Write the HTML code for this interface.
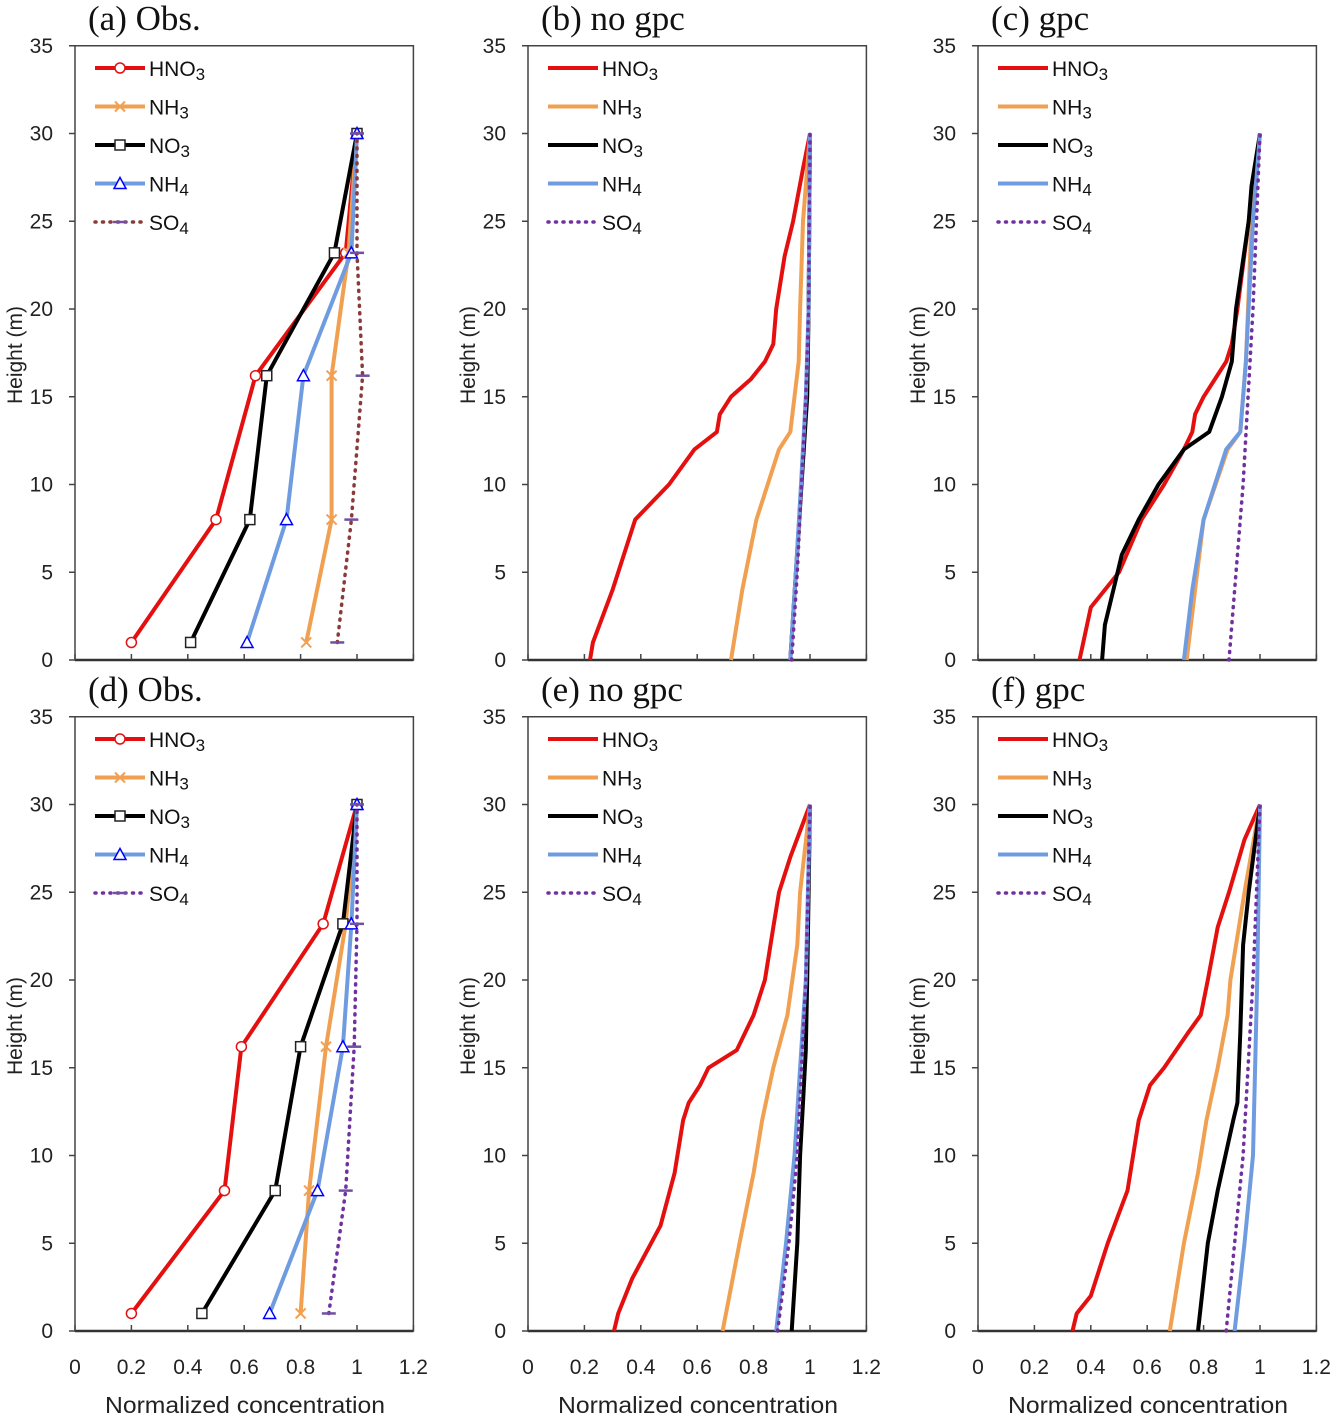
<!DOCTYPE html>
<html><head><meta charset="utf-8">
<style>
html,body{margin:0;padding:0;background:#fff;}
svg{display:block;}
text{font-family:"Liberation Sans",sans-serif;}
.title{font-family:"Liberation Serif",serif;font-size:35px;fill:#111;}
.tick{font-size:21px;fill:#222;}
.axt{font-size:23px;fill:#222;}
.leg{font-size:21px;fill:#111;}
</style></head>
<body>
<svg id="chart" width="1336" height="1416" viewBox="0 0 1336 1416" xmlns="http://www.w3.org/2000/svg"></svg>
<script>
// Panel titles
const panelTitles = ["(a) Obs.", "(b) no gpc", "(c) gpc", "(d) Obs.", "(e) no  gpc", "(f) gpc"];
const yTicks = [0, 5, 10, 15, 20, 25, 30, 35];
const xTicks = [0, 0.2, 0.4, 0.6, 0.8, 1, 1.2];
const xTickLabels = ["0", "0.2", "0.4", "0.6", "0.8", "1", "1.2"];
const speciesNames = ["HNO3", "NH3", "NO3", "NH4", "SO4"];

// Observation heights
const obsH = [1, 8, 16.2, 23.2, 30];
// (a) Obs
const aHNO3 = [0.2, 0.5, 0.64, 0.96, 1.0];
const aNH3 = [0.82, 0.91, 0.91, 0.97, 1.0];
const aNO3 = [0.41, 0.62, 0.68, 0.92, 1.0];
const aNH4 = [0.61, 0.75, 0.81, 0.98, 1.0];
const aSO4 = [0.93, 0.98, 1.02, 1.0, 1.0];
// (d) Obs
const dHNO3 = [0.2, 0.53, 0.59, 0.88, 1.0];
const dNH3 = [0.80, 0.83, 0.89, 0.96, 1.0];
const dNO3 = [0.45, 0.71, 0.80, 0.95, 1.0];
const dNH4 = [0.69, 0.86, 0.95, 0.98, 1.0];
const dSO4 = [0.90, 0.96, 0.99, 1.0, 1.0];

// (b) no gpc model
const bHNO3h = [0, 1, 4, 8, 10, 12, 13, 14, 15, 16, 17, 18, 20, 23, 25, 28, 30];
const bHNO3 = [0.22, 0.23, 0.30, 0.38, 0.50, 0.59, 0.67, 0.68, 0.72, 0.79, 0.84, 0.87, 0.88, 0.91, 0.94, 0.975, 1.0];
const bNH3h = [0, 4, 8, 12, 13, 17, 20, 25, 30];
const bNH3 = [0.72, 0.76, 0.81, 0.89, 0.93, 0.96, 0.965, 0.975, 1.0];
const bNO3h = [0, 5, 10, 15, 20, 30];
const bNO3 = [0.93, 0.95, 0.97, 0.99, 0.995, 1.0];
const bNH4h = [0, 5, 10, 15, 20, 30];
const bNH4 = [0.93, 0.95, 0.968, 0.985, 0.995, 1.0];
const bSO4h = [0, 5, 10, 15, 20, 30];
const bSO4 = [0.935, 0.955, 0.97, 0.985, 0.995, 1.0];

// (c) gpc model
const cHNO3h = [0, 3, 5, 8, 10, 12, 13, 14, 15, 17, 18, 20, 25, 30];
const cHNO3 = [0.36, 0.40, 0.50, 0.58, 0.66, 0.73, 0.76, 0.77, 0.80, 0.88, 0.90, 0.92, 0.96, 1.0];
const cNO3h = [0, 2, 4, 6, 8, 10, 12, 13, 15, 17, 20, 25, 27, 30];
const cNO3 = [0.44, 0.45, 0.48, 0.51, 0.57, 0.64, 0.73, 0.82, 0.865, 0.90, 0.915, 0.96, 0.97, 1.0];
const cNH3h = [0, 4, 8, 12, 13, 17, 25, 30];
const cNH3 = [0.74, 0.77, 0.80, 0.885, 0.93, 0.95, 0.97, 1.0];
const cNH4h = [0, 4, 8, 12, 13, 17, 25, 30];
const cNH4 = [0.73, 0.76, 0.80, 0.88, 0.93, 0.95, 0.975, 1.0];
const cSO4h = [0, 10, 20, 30];
const cSO4 = [0.89, 0.94, 0.975, 1.0];

// (e) no gpc model
const eHNO3h = [0, 1, 3, 6, 9, 12, 13, 14, 15, 16, 18, 20, 23, 25, 27, 30];
const eHNO3 = [0.305, 0.32, 0.37, 0.47, 0.52, 0.55, 0.57, 0.61, 0.64, 0.74, 0.80, 0.84, 0.87, 0.89, 0.93, 1.0];
const eNH3h = [0, 5, 9, 12, 15, 18, 22, 25, 30];
const eNH3 = [0.69, 0.75, 0.80, 0.83, 0.87, 0.92, 0.955, 0.965, 1.0];
const eNO3h = [0, 5, 10, 13, 16, 20, 30];
const eNO3 = [0.935, 0.955, 0.965, 0.975, 0.985, 0.99, 1.0];
const eNH4h = [0, 5, 10, 15, 20, 30];
const eNH4 = [0.88, 0.915, 0.945, 0.965, 0.985, 1.0];
const eSO4h = [0, 5, 10, 20, 30];
const eSO4 = [0.885, 0.925, 0.955, 0.985, 1.0];

// (f) gpc model
const fHNO3h = [0, 1, 2, 5, 8, 12, 14, 15, 17, 18, 20, 23, 25, 28, 30];
const fHNO3 = [0.335, 0.35, 0.40, 0.46, 0.53, 0.57, 0.61, 0.66, 0.745, 0.79, 0.815, 0.85, 0.89, 0.945, 1.0];
const fNH3h = [0, 5, 9, 12, 15, 18, 20, 25, 30];
const fNH3 = [0.68, 0.73, 0.78, 0.81, 0.85, 0.885, 0.895, 0.945, 1.0];
const fNO3h = [0, 5, 8, 12, 13, 17, 22, 25, 30];
const fNO3 = [0.78, 0.815, 0.85, 0.905, 0.92, 0.93, 0.94, 0.96, 1.0];
const fNH4h = [0, 5, 10, 20, 30];
const fNH4 = [0.91, 0.945, 0.975, 0.99, 1.0];
const fSO4h = [0, 5, 10, 20, 30];
const fSO4 = [0.88, 0.91, 0.94, 0.975, 1.0];

const NS = "http://www.w3.org/2000/svg";
const svg = document.getElementById("chart");
function mk(tag, attrs, parent) {
  const e = document.createElementNS(NS, tag);
  for (const k in attrs) e.setAttribute(k, attrs[k]);
  (parent || svg).appendChild(e);
  return e;
}
const RED = "#e41010", ORANGE = "#f0a050", BLACK = "#000", BLUE = "#6f9ce0", PURPLE = "#7030a0", MAROON = "#8b3a3a";

const panelsX = [75, 528, 978, 75, 528, 978];
const panelsY0 = [660, 660, 660, 1331, 1331, 1331];
const PXU = 282, PYU = 17.55;

function addSpeciesText(g, x, y, name) {
  const t = mk("text", {x: x, y: y, class: "leg"}, g);
  const base = name.slice(0, -1), sub = name.slice(-1);
  t.appendChild(document.createTextNode(base));
  const s = mk("tspan", {"font-size": "17", dy: "4"}, t);
  s.textContent = sub;
}

function drawPanel(i, series, isObs, so4Color) {
  const x0 = panelsX[i], y0 = panelsY0[i];
  const sx = v => x0 + v * PXU;
  const sy = v => y0 - v * PYU;
  const g = mk("g", {});
  
  
  const tt = mk("text", {x: x0 + 13, y: y0 - 630, class: "title"}, g);
  tt.textContent = panelTitles[i];
  
  
  const fr = mk("rect", {x: sx(0), y: sy(35), width: sx(1.2) - sx(0), height: sy(0) - sy(35), fill: "none", stroke: "#444", "stroke-width": 1.5}, g);
  
  
  mk("line", {x1: sx(0), y1: sy(0), x2: sx(1.2), y2: sy(0), stroke: "#333", "stroke-width": 2.5}, g);
  yTicks.forEach(v => {
    mk("line", {x1: sx(0) - 6, y1: sy(v), x2: sx(0), y2: sy(v), stroke: "#444", "stroke-width": 1.5}, g);
    const t = mk("text", {x: sx(0) - 22, y: sy(v) + 7, class: "tick", "text-anchor": "end"}, g);
    t.textContent = v;
    
    
  });
  xTicks.forEach((v, k) => {
    mk("line", {x1: sx(v), y1: sy(0), x2: sx(v), y2: sy(0) - 6, stroke: "#444", "stroke-width": 1.5}, g);
    if (i >= 3) {
      const t = mk("text", {x: sx(v), y: y0 + 43, class: "tick", "text-anchor": "middle"}, g);
      t.textContent = xTickLabels[k];
      
      
    }
  });
  const yl = mk("text", {x: 0, y: 0, class: "tick", "text-anchor": "middle", transform: `translate(${x0 - 53},${y0 - 305}) rotate(-90)`}, g);
  yl.textContent = "Height (m)";
  
  
  if (i >= 3) {
    const xl = mk("text", {x: x0 + 170, y: y0 + 82, class: "axt", "text-anchor": "middle", textLength: 280, lengthAdjust: "spacingAndGlyphs"}, g);
    xl.textContent = "Normalized concentration";
    
    
  }
  const colors = [RED, ORANGE, BLACK, BLUE, so4Color];
  series.forEach((s, k) => {
    const pts = s.v.map((v, j) => sx(v).toFixed(1) + "," + sy(s.h[j]).toFixed(1)).join(" ");
    const attrs = {points: pts, fill: "none", stroke: colors[k], "stroke-width": k === 4 ? 3.5 : 4, "stroke-linejoin": "round"};
    if (k === 4) { attrs["stroke-dasharray"] = "1 6.5"; attrs["stroke-linecap"] = "round"; }
    const pl = mk("polyline", attrs, g);
    
    
    if (isObs) s.v.forEach((v, j) => marker(g, k, sx(v), sy(s.h[j])));
  });
  speciesNames.forEach((nm, k) => {
    const ly = y0 - 592 + k * 38.5;
    const la = {x1: x0 + 20, y1: ly, x2: x0 + 70, y2: ly, stroke: colors[k], "stroke-width": k === 4 ? 3.5 : 4};
    if (k === 4) { la["stroke-dasharray"] = "1 6.5"; la["stroke-linecap"] = "round"; }
    const ll = mk("line", la, g);
    
    
    if (isObs) marker(g, k, x0 + 45, ly);
    addSpeciesText(g, x0 + 74, ly + 8, nm);
  });
}

function marker(g, k, x, y) {
  if (k === 0) mk("circle", {cx: x, cy: y, r: 5, fill: "#fff", stroke: RED, "stroke-width": 1.5}, g);
  else if (k === 1) mk("path", {d: `M${x-5},${y-5}L${x+5},${y+5}M${x-5},${y+5}L${x+5},${y-5}`, stroke: ORANGE, "stroke-width": 2}, g);
  else if (k === 2) mk("rect", {x: x - 5, y: y - 5, width: 10, height: 10, fill: "#fff", stroke: "#222", "stroke-width": 1.5}, g);
  else if (k === 3) mk("path", {d: `M${x},${y-6}L${x+6},${y+5}L${x-6},${y+5}Z`, fill: "#fff", stroke: "#0000ff", "stroke-width": 1.5}, g);
  else mk("line", {x1: x - 7, y1: y, x2: x + 7, y2: y, stroke: "#7050a0", "stroke-width": 2.5}, g);
}

drawPanel(0, [{h: obsH, v: aHNO3}, {h: obsH, v: aNH3}, {h: obsH, v: aNO3}, {h: obsH, v: aNH4}, {h: obsH, v: aSO4}], true, MAROON);
drawPanel(1, [{h: bHNO3h, v: bHNO3}, {h: bNH3h, v: bNH3}, {h: bNO3h, v: bNO3}, {h: bNH4h, v: bNH4}, {h: bSO4h, v: bSO4}], false, PURPLE);
drawPanel(2, [{h: cHNO3h, v: cHNO3}, {h: cNH3h, v: cNH3}, {h: cNO3h, v: cNO3}, {h: cNH4h, v: cNH4}, {h: cSO4h, v: cSO4}], false, PURPLE);
drawPanel(3, [{h: obsH, v: dHNO3}, {h: obsH, v: dNH3}, {h: obsH, v: dNO3}, {h: obsH, v: dNH4}, {h: obsH, v: dSO4}], true, PURPLE);
drawPanel(4, [{h: eHNO3h, v: eHNO3}, {h: eNH3h, v: eNH3}, {h: eNO3h, v: eNO3}, {h: eNH4h, v: eNH4}, {h: eSO4h, v: eSO4}], false, PURPLE);
drawPanel(5, [{h: fHNO3h, v: fHNO3}, {h: fNH3h, v: fNH3}, {h: fNO3h, v: fNO3}, {h: fNH4h, v: fNH4}, {h: fSO4h, v: fSO4}], false, PURPLE);
</script>
</body></html>
